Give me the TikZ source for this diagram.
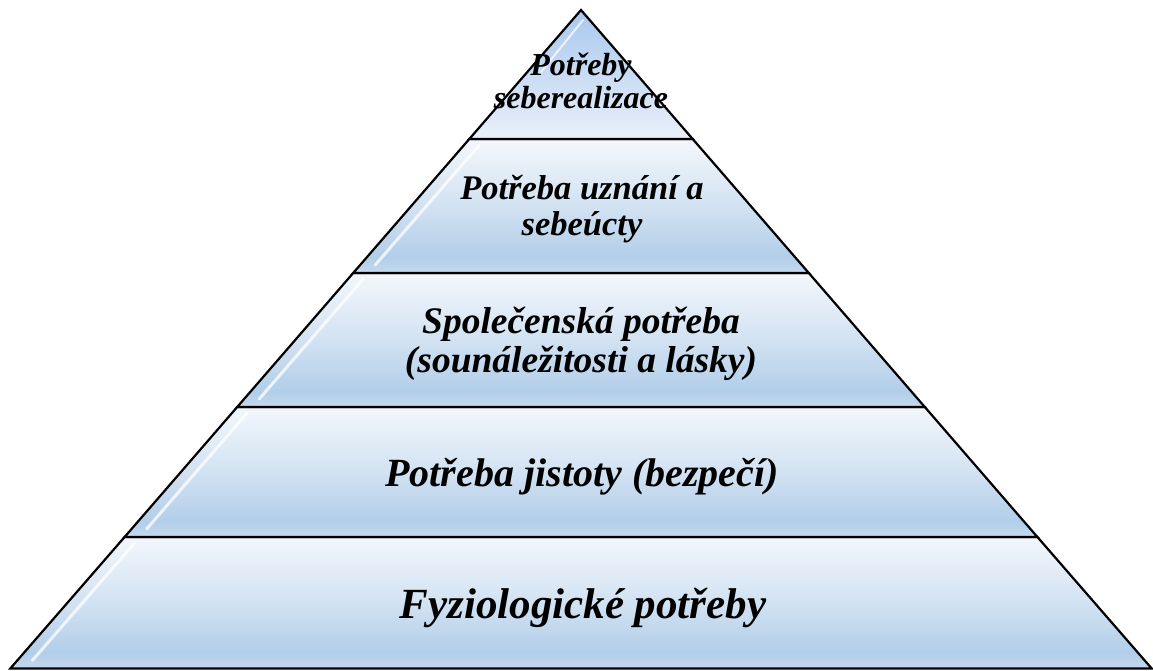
\documentclass[tikz,border=0pt]{standalone}
\usepackage{fontspec}
\setmainfont{Liberation Serif}
\usetikzlibrary{calc}
\definecolor{tTop}{HTML}{F3F7FC}
\definecolor{tMid}{HTML}{D2E2F2}
\definecolor{tBlue}{HTML}{B2CEE9}
\definecolor{tBot}{HTML}{C4D9EE}
\definecolor{aTop}{HTML}{A9C8EE}
\definecolor{aBot}{HTML}{E9F0FA}
\pgfdeclareverticalshading{tiershade}{100bp}{color(0bp)=(tBot); color(25bp)=(tBot); color(31bp)=(tBlue); color(50bp)=(tMid); color(75bp)=(tTop); color(100bp)=(tTop)}
\pgfdeclareverticalshading{apexshade}{100bp}{color(0bp)=(aBot); color(25bp)=(aBot); color(75bp)=(aTop); color(100bp)=(aTop)}
\tikzset{
  tier/.style={draw=black, line width=2.2pt, line join=miter, shading=tiershade},
  apex/.style={draw=black, line width=2.2pt, line join=miter, shading=apexshade},
  gloss/.style={draw=white, line width=3pt, opacity=0.75, line cap=round},
  lbl/.style={align=center, text=black, inner sep=0pt, anchor=base}
}
\begin{document}
\begin{tikzpicture}[x=1pt,y=-1pt]
\useasboundingbox (0,0) rectangle (1153,670);
% half widths: y -> 0.866*(y-10)
\coordinate (A) at (581,10);
\coordinate (L1) at (469.3,139); \coordinate (R1) at (692.7,139);
\coordinate (L2) at (353.2,273); \coordinate (R2) at (808.8,273);
\coordinate (L3) at (237.2,407); \coordinate (R3) at (924.8,407);
\coordinate (L4) at (124.6,537); \coordinate (R4) at (1037.4,537);
\coordinate (L5) at (10.3,668.5); \coordinate (R5) at (1151.7,668.5);
% tiers
\shade[tier] (L4) -- (R4) -- (R5) -- (L5) -- cycle;
\shade[tier] (L3) -- (R3) -- (R4) -- (L4) -- cycle;
\shade[tier] (L2) -- (R2) -- (R3) -- (L3) -- cycle;
\shade[tier] (L1) -- (R1) -- (R2) -- (L2) -- cycle;
\shade[apex] (A) -- (R1) -- (L1) -- cycle;
% gloss highlights
\draw[gloss] ($(L4)+(10,6)$) -- ($(L5)+(22,-8)$);
\draw[gloss] ($(L3)+(10,6)$) -- ($(L4)+(22,-8)$);
\draw[gloss] ($(L2)+(10,6)$) -- ($(L3)+(22,-8)$);
\draw[gloss] ($(L1)+(10,6)$) -- ($(L2)+(22,-8)$);
\draw[gloss, line width=2pt] ($(A)+(2,10)$) -- ($(A)+(-40,62)$);
% labels
\node[lbl, font=\fontsize{43}{48}\selectfont\bfseries\itshape] (t5) at (583,618) {Fyziologické potřeby};
\node[lbl, font=\fontsize{40}{46}\selectfont\bfseries\itshape] (t4) at (582,486) {Potřeba jistoty (bezpečí)};
\node[lbl, font=\fontsize{37.5}{39}\selectfont\bfseries\itshape] (t3) at (581,372) {Společenská potřeba\\(sounáležitosti a lásky)};
\node[lbl, font=\fontsize{34.5}{36}\selectfont\bfseries\itshape] (t2) at (582,235) {Potřeba uznání a\\sebeúcty};
\node[lbl, font=\fontsize{32}{33}\selectfont\bfseries\itshape] (t1) at (581,108) {Potřeby\\seberealizace};
\end{tikzpicture}
\end{document}
